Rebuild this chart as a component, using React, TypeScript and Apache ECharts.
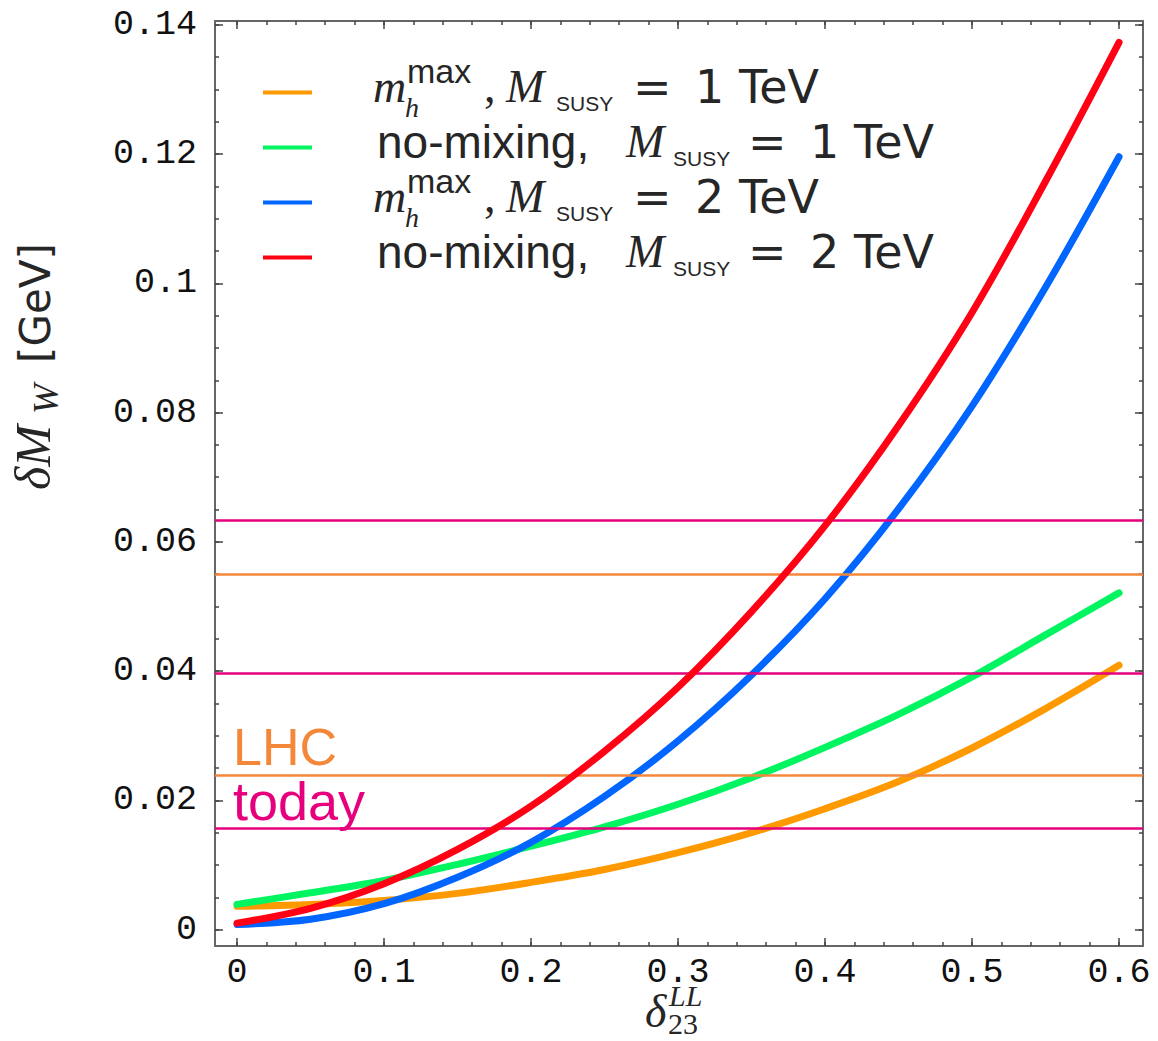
import React, { useEffect, useRef } from "react";
import * as echarts from "echarts";

// ---- data ----
const xValues = [0, 0.05, 0.1, 0.15, 0.2, 0.25, 0.3, 0.35, 0.4, 0.45, 0.5, 0.55, 0.6];
const mhmax1TeV = [0.0036, 0.0039, 0.0045, 0.0056, 0.0073, 0.0093, 0.0119, 0.015, 0.0187, 0.0229, 0.0281, 0.0342, 0.0409];
const nomix1TeV = [0.0039, 0.0057, 0.0076, 0.0101, 0.0129, 0.0159, 0.0194, 0.0235, 0.0282, 0.0333, 0.0391, 0.0456, 0.0521];
const mhmax2TeV = [0.0008, 0.0016, 0.004, 0.0081, 0.0135, 0.0206, 0.0292, 0.0394, 0.0512, 0.0651, 0.081, 0.0994, 0.1196];
const nomix2TeV = [0.001, 0.0033, 0.0071, 0.0124, 0.0191, 0.0276, 0.0375, 0.0492, 0.0625, 0.078, 0.0955, 0.1158, 0.1373];

const lhcLevels = [0.055, 0.0239];
const todayLevels = [0.0634, 0.0396, 0.0157];

const xMajor = [0, 0.1, 0.2, 0.3, 0.4, 0.5, 0.6];
const xMinor = [0, 0.02, 0.04, 0.06, 0.08, 0.1, 0.12, 0.14, 0.16, 0.18, 0.2, 0.22, 0.24, 0.26, 0.28, 0.3, 0.32, 0.34, 0.36, 0.38, 0.4, 0.42, 0.44, 0.46, 0.48, 0.5, 0.52, 0.54, 0.56, 0.58, 0.6];
const yMajor = [0, 0.02, 0.04, 0.06, 0.08, 0.1, 0.12, 0.14];
const yMinor = [0, 0.005, 0.01, 0.015, 0.02, 0.025, 0.03, 0.035, 0.04, 0.045, 0.05, 0.055, 0.06, 0.065, 0.07, 0.075, 0.08, 0.085, 0.09, 0.095, 0.1, 0.105, 0.11, 0.115, 0.12, 0.125, 0.13, 0.135, 0.14];

const seriesNames = ["mhmax, 1 TeV", "no-mixing, 1 TeV", "mhmax, 2 TeV", "no-mixing, 2 TeV"];
const seriesColors = ["#FF9900", "#00F560", "#0066FF", "#FF0014"];
const legendKinds = ["mhmax", "nomix", "mhmax", "nomix"];
const legendMass = ["1", "1", "2", "2"];

const X_MIN = -0.015;
const X_MAX = 0.6163;
const Y_MIN = -0.00254;
const Y_MAX = 0.1406;

const SANS = "Liberation Sans";
const DEJA = "DejaVu Sans";
const SERIF = "Liberation Serif";
const MONO = "Liberation Mono";
const FRAME = "#666666";
const TICKC = "#444444";
const TEXTC = "#262626";
const LHC_COLOR = "#F5873A";
const TODAY_COLOR = "#E6007E";

function txt(text: string, x: number, baseline: number, size: number, family: string, extra: any = {}) {
  return {
    type: "text",
    x,
    y: baseline - 0.35 * size,
    silent: true,
    style: {
      text,
      fontSize: size,
      fontFamily: family,
      fontStyle: extra.italic ? "italic" : "normal",
      fill: extra.fill || TEXTC,
      lineHeight: extra.lh || size,
      align: "left",
      textAlign: "left",
      verticalAlign: "middle",
      textVerticalAlign: "middle",
    },
  };
}

function vtxt(text: string, baselineX: number, startY: number, size: number, family: string, italic = false) {
  return {
    type: "text",
    x: baselineX - 0.35 * size,
    y: startY,
    rotation: Math.PI / 2,
    silent: true,
    style: {
      text,
      fontSize: size,
      fontFamily: family,
      fontStyle: italic ? "italic" : "normal",
      fill: TEXTC,
      align: "left",
      textAlign: "left",
      verticalAlign: "middle",
      textVerticalAlign: "middle",
    },
  };
}

function legendGraphics() {
  const els: any[] = [];
  const rowBase = [103, 158, 213, 268];
  legendKinds.forEach((kind, i) => {
    const b = rowBase[i];
    els.push({
      type: "line",
      silent: true,
      shape: { x1: 263, y1: b - 10.5, x2: 312, y2: b - 10.5 },
      style: { stroke: seriesColors[i], lineWidth: 4 },
    });
    if (kind === "mhmax") {
      els.push(txt("m", 373, b, 46, SERIF, { italic: true, lh: 30 }));
      els.push(txt("max", 407, b - 20, 34, SANS, { lh: 22 }));
      els.push(txt("h", 405, b + 14, 28, SERIF, { italic: true, lh: 20 }));
      els.push(txt(",", 484, b, 46, SERIF));
      els.push(txt("M", 506, b, 46, SERIF, { italic: true }));
      els.push(txt("SUSY", 556, b + 8, 21, SANS));
      els.push(txt("=", 633, b, 46, DEJA));
      els.push(txt(legendMass[i] + " TeV", 695, b, 46, DEJA));
    } else {
      els.push(txt("no-mixing,", 377, b, 46, SANS));
      els.push(txt("M", 626, b, 46, SERIF, { italic: true }));
      els.push(txt("SUSY", 673, b + 8, 21, SANS));
      els.push(txt("=", 748, b, 46, DEJA));
      els.push(txt(legendMass[i] + " TeV", 810, b, 46, DEJA));
    }
  });
  return els;
}

function axisNameGraphics() {
  return [
    // y axis name: δM_W [GeV]
    vtxt("δM", 50, 490, 50, SERIF, true),
    vtxt("W", 59, 414, 36, SERIF, true),
    vtxt("[GeV]", 50, 363, 42, DEJA),
    // x axis name: δ^{LL}_{23}
    txt("δ", 645, 1028, 46, SERIF, { italic: true, lh: 34 }),
    txt("LL", 669, 1006, 30, SERIF, { italic: true, lh: 21 }),
    txt("23", 668, 1034, 30, SERIF, { lh: 21 }),
  ];
}

function xAxisDef(position: "top" | "bottom", major: boolean) {
  return {
    type: "value",
    position,
    min: X_MIN,
    max: X_MAX,
    axisLine: { show: major, onZero: false, lineStyle: { color: FRAME, width: 2 } },
    axisTick: {
      show: true,
      inside: true,
      length: major ? 8 : 4,
      customValues: major ? xMajor : xMinor,
      lineStyle: { color: TICKC, width: 1.5 },
    },
    axisLabel: {
      show: major && position === "bottom",
      customValues: xMajor,
      formatter: (v: number) => String(v),
      fontFamily: MONO,
      fontSize: 35,
      lineHeight: 26,
      color: "#111111",
      margin: 14,
    },
    splitLine: { show: false },
  };
}

function yAxisDef(position: "left" | "right", major: boolean) {
  return {
    type: "value",
    position,
    min: Y_MIN,
    max: Y_MAX,
    axisLine: { show: major, onZero: false, lineStyle: { color: FRAME, width: 2 } },
    axisTick: {
      show: true,
      inside: true,
      length: major ? 8 : 4,
      customValues: major ? yMajor : yMinor,
      lineStyle: { color: TICKC, width: 1.5 },
    },
    axisLabel: {
      show: major && position === "left",
      customValues: yMajor,
      formatter: (v: number) => String(v),
      fontFamily: MONO,
      fontSize: 35,
      color: "#111111",
      margin: 18,
    },
    splitLine: { show: false },
  };
}

export default function App() {
  const ref = useRef<HTMLDivElement>(null);

  useEffect(() => {
    document.body.style.margin = "0";
    if (!ref.current) return;
    const chart = echarts.init(ref.current, undefined, { renderer: "svg" });

    const curves = [mhmax1TeV, nomix1TeV, mhmax2TeV, nomix2TeV];
    const series: any[] = curves.map((vals, i) => ({
      name: seriesNames[i],
      type: "line",
      xAxisIndex: 0,
      yAxisIndex: 0,
      data: xValues.map((x, k) => [x, vals[k]]),
      smooth: 0.35,
      showSymbol: false,
      symbol: "none",
      lineStyle: { color: seriesColors[i], width: 7, cap: "round", join: "round" },
      itemStyle: { color: seriesColors[i] },
      z: 2 + i,
    }));

    const markData: any[] = [];
    todayLevels.forEach((v, k) => {
      markData.push({
        yAxis: v,
        lineStyle: { color: TODAY_COLOR, width: 2.5, type: "solid" },
        label: k === todayLevels.length - 1
          ? {
              show: true,
              position: "insideStartTop",
              formatter: "today",
              color: TODAY_COLOR,
              fontFamily: SANS,
              fontSize: 54,
              lineHeight: 54,
              distance: [18, 0],
            }
          : { show: false },
      });
    });
    lhcLevels.forEach((v, k) => {
      markData.push({
        yAxis: v,
        lineStyle: { color: LHC_COLOR, width: 2.5, type: "solid" },
        label: k === lhcLevels.length - 1
          ? {
              show: true,
              position: "insideStartTop",
              formatter: "LHC",
              color: LHC_COLOR,
              fontFamily: SANS,
              fontSize: 52,
              lineHeight: 52,
              distance: [18, 2],
            }
          : { show: false },
      });
    });
    series[3].markLine = {
      silent: true,
      symbol: "none",
      precision: 6,
      animation: false,
      data: markData,
    };

    chart.setOption({
      animation: false,
      backgroundColor: "#ffffff",
      grid: { left: 215, right: 15, top: 21, bottom: 95, containLabel: false },
      xAxis: [xAxisDef("bottom", true), xAxisDef("bottom", false), xAxisDef("top", true), xAxisDef("top", false)],
      yAxis: [yAxisDef("left", true), yAxisDef("left", false), yAxisDef("right", true), yAxisDef("right", false)],
      series,
      graphic: { elements: [...legendGraphics(), ...axisNameGraphics()] },
    });

    return () => chart.dispose();
  }, []);

  return <div ref={ref} style={{ width: 1158, height: 1041 }} />;
}
